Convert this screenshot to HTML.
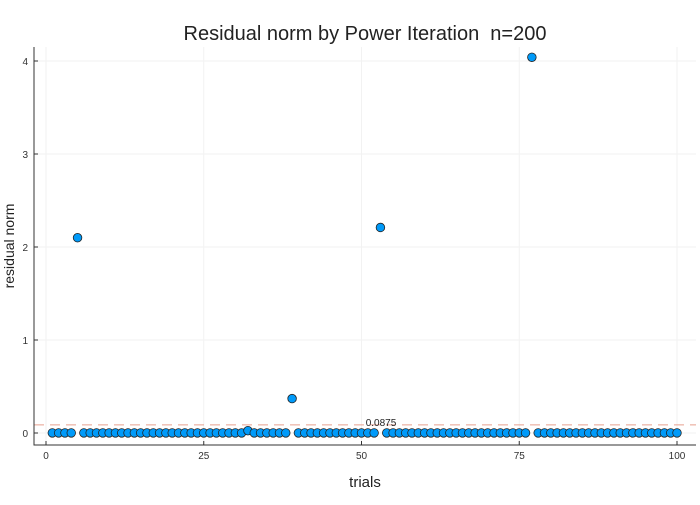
<!DOCTYPE html>
<html><head><meta charset="utf-8"><style>
body{margin:0;background:#fff;}
svg text{font-family:"Liberation Sans",sans-serif;}
</style></head><body>
<svg id="c" width="700" height="500">
<text x="365" y="40" font-size="20" text-anchor="middle" fill="#222">Residual norm by Power Iteration&#160; n=200</text>
<text x="365" y="487" font-size="15" text-anchor="middle" fill="#222">trials</text>
<text x="14" y="246" font-size="14" text-anchor="middle" fill="#222" transform="rotate(-90 14 246)">residual norm</text>
<g id="grid"></g><g id="ref"></g><g id="pts"></g><g id="axes"></g>
</svg>
<script>
const xTicks=[0,25,50,75,100];
const yTicks=[0,1,2,3,4];
const threshold=0.0875;
const trials=[];for(let i=1;i<=100;i++)trials.push(i);
const residuals=new Array(100).fill(0.001);
residuals[4]=2.1;residuals[31]=0.025;residuals[38]=0.37;residuals[52]=2.21;residuals[76]=4.04;
const X=v=>46+v*6.31, Y=v=>433-v*93;
const ns="http://www.w3.org/2000/svg";
function mk(t,a,p){const e=document.createElementNS(ns,t);for(const k in a)e.setAttribute(k,a[k]);p.appendChild(e);return e;}
const g=document.getElementById('grid'),ax=document.getElementById('axes'),r=document.getElementById('ref'),pg=document.getElementById('pts');
xTicks.forEach(t=>{const l=mk('line',{x1:X(t),x2:X(t),y1:47,y2:445,stroke:'#f2f2f2'},g);


const tx=mk('text',{x:X(t),y:459,'font-size':10,'text-anchor':'middle',fill:'#333'},ax);tx.textContent=t;


mk('line',{x1:X(t),x2:X(t),y1:445,y2:441,stroke:'#333'},ax);});
yTicks.forEach(t=>{const l=mk('line',{x1:34,x2:696,y1:Y(t),y2:Y(t),stroke:'#f2f2f2'},g);


const tx=mk('text',{x:28,y:Y(t)+4,'font-size':10,'text-anchor':'end',fill:'#333'},ax);tx.textContent=t;


mk('line',{x1:34,x2:38,y1:Y(t),y2:Y(t),stroke:'#333'},ax);});
const sp=mk('path',{d:'M34 47V445H696',fill:'none',stroke:'#333','stroke-width':1},ax);


const rl=mk('line',{x1:34,x2:696,y1:Y(threshold),y2:Y(threshold),stroke:'#e8a08f','stroke-dasharray':'10 6','stroke-width':1},r);


const rt=mk('text',{x:381,y:Y(threshold)+1,'font-size':10,'text-anchor':'middle',fill:'#222'},r);rt.textContent=threshold;


trials.forEach((t,i)=>{const c=mk('circle',{cx:X(t),cy:Y(residuals[i]),r:4.3,fill:'#009af9',stroke:'#222','stroke-width':0.8},pg);

});
</script>
</body></html>
